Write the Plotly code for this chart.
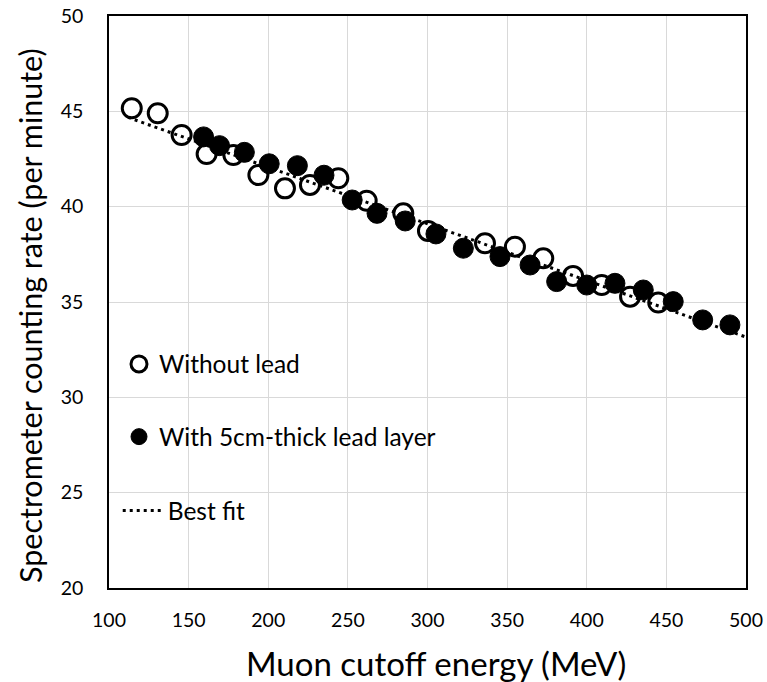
import plotly.graph_objects as go

# Without lead (open circles)
open_x = [114.3, 130.6, 145.6, 161.3, 178.1, 193.8, 210.5, 226.2, 244.0, 261.8,
          284.8, 300.3, 336.1, 354.9, 372.7, 391.4, 409.4, 427.2, 444.9]
open_y = [45.16, 44.90, 43.76, 42.76, 42.71, 41.66, 40.96, 41.14, 41.49, 40.31,
          39.65, 38.73, 38.08, 37.90, 37.29, 36.37, 35.89, 35.28, 34.97]

# With 5cm-thick lead layer (filled circles)
lead_x = [159.4, 169.4, 185.0, 200.6, 218.3, 235.0, 252.7, 268.3, 286.0, 305.3,
          322.5, 345.5, 364.4, 381.1, 400.0, 417.7, 435.5, 454.3, 472.8, 489.9]
lead_y = [43.66, 43.20, 42.85, 42.25, 42.15, 41.65, 40.35, 39.65, 39.25, 38.57,
          37.82, 37.38, 36.94, 36.07, 35.89, 35.98, 35.63, 35.02, 34.06, 33.80]

# Best fit line end points
fit_x = [112.0, 500.0]
fit_y = [44.68, 33.16]

x_ticks = [100, 150, 200, 250, 300, 350, 400, 450, 500]
y_ticks = [20, 25, 30, 35, 40, 45, 50]

x_title = "Muon cutoff energy (MeV)"
y_title = "Spectrometer counting rate (per minute)"

FONT = "Lato"

fig = go.Figure()
fig.add_trace(go.Scatter(
    x=open_x, y=open_y, mode="markers", name="Without lead", legend="legend",
    marker=dict(symbol="circle", size=19, color="white",
                line=dict(color="black", width=3)),
))
fig.add_trace(go.Scatter(
    x=fit_x, y=fit_y, mode="lines", name="Best fit", legend="legend3",
    line=dict(color="black", width=3, dash="3px,4px"),
))
fig.add_trace(go.Scatter(
    x=lead_x, y=lead_y, mode="markers", name="With 5cm-thick lead layer", legend="legend2",
    marker=dict(symbol="circle", size=20, color="black",
                line=dict(color="black", width=1)),
))

legend_common = dict(bgcolor="rgba(0,0,0,0)", borderwidth=0,
                     font=dict(family=FONT, size=24.5, color="black"),
                     xanchor="left", yanchor="middle")

fig.update_layout(
    width=767, height=682,
    margin=dict(l=109, r=21, t=16, b=94),
    paper_bgcolor="white", plot_bgcolor="white",
    font=dict(family=FONT, color="black"),
    showlegend=True,
    legend=dict(x=0.0157, y=0.3916, **legend_common),
    legend2=dict(x=0.0157, y=0.2645, **legend_common),
    legend3=dict(x=0.0137, y=0.1355, itemwidth=40, **legend_common),
    xaxis=dict(
        range=[100, 500], tickvals=x_ticks, ticktext=[str(v) for v in x_ticks],
        showgrid=True, gridcolor="#d9d9d9", gridwidth=1,
        showline=True, linecolor="black", linewidth=1.5, mirror=True,
        ticks="", ticklen=0, zeroline=False, automargin=False,
        ticklabelstandoff=14,
        tickfont=dict(family=FONT, size=19.5, color="black"),
    ),
    yaxis=dict(
        range=[20, 50], tickvals=y_ticks, ticktext=[str(v) for v in y_ticks],
        showgrid=True, gridcolor="#d9d9d9", gridwidth=1,
        showline=True, linecolor="black", linewidth=1.5, mirror=True,
        ticks="", ticklen=0, zeroline=False, automargin=False,
        ticklabelstandoff=20,
        tickfont=dict(family=FONT, size=19.5, color="black"),
    ),
    annotations=[
        dict(text=x_title, xref="paper", yref="paper", x=0.514, y=-0.131,
             xanchor="center", yanchor="middle", showarrow=False,
             font=dict(family=FONT, size=33, color="black")),
        dict(text=y_title, xref="paper", yref="paper", x=-0.124, y=0.4755,
             xanchor="center", yanchor="middle", showarrow=False, textangle=-90,
             font=dict(family=FONT, size=30.5, color="black")),
    ],
)

fig.write_html("out.html", config={"displayModeBar": False},
               post_script="document.body.style.margin='0';")
